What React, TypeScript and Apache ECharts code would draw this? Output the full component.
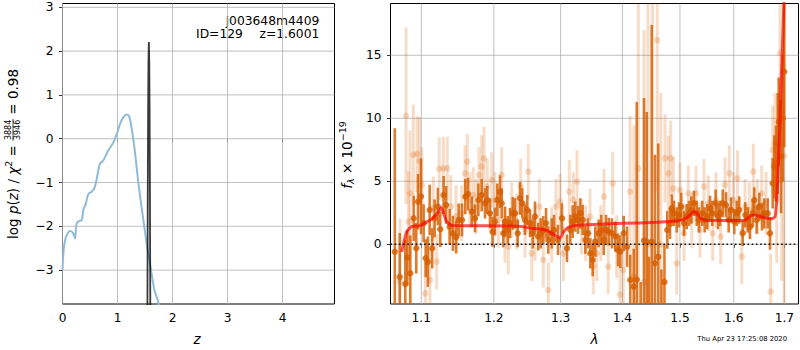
import React, { useEffect, useRef } from 'react';
import * as echarts from 'echarts';

const FONT = '"DejaVu Sans", "Liberation Sans", sans-serif';

// ---------- left panel: log p(z) ----------
const pzZ = [0.0, 0.02, 0.05, 0.09, 0.14, 0.19, 0.23, 0.245, 0.26, 0.30, 0.35, 0.38, 0.42, 0.47, 0.52, 0.57, 0.60, 0.64, 0.68, 0.74, 0.79, 0.83, 0.88, 0.93, 0.99, 1.05, 1.11, 1.17, 1.21, 1.26, 1.32, 1.38, 1.47, 1.53, 1.61, 1.67, 1.75, 1.84];
const pzLogp = [-3.0, -2.55, -2.3, -2.17, -2.11, -2.15, -2.28, -2.05, -1.93, -1.88, -1.86, -1.62, -1.50, -1.26, -1.22, -1.15, -1.05, -0.80, -0.57, -0.50, -0.38, -0.27, -0.18, -0.07, 0.12, 0.35, 0.50, 0.555, 0.52, 0.22, -0.33, -1.02, -1.86, -2.39, -3.0, -3.45, -3.77, -4.4];
const spikeZ = [1.535, 1.544, 1.550, 1.557, 1.563, 1.570, 1.577, 1.583, 1.590, 1.596, 1.605];
const spikeLogp = [-8.6, -3.77, -1.33, 0.71, 1.78, 2.21, 1.78, 0.71, -1.33, -3.77, -8.6];
const leftXTicks = [0, 1, 2, 3, 4];
const leftYTicks = [-3, -2, -1, 0, 1, 2, 3];
const titleName = 'j003648m4409';
const titleId = 'ID=129';
const titleZ = 'z=1.6001';

// ---------- right panel: spectrum ----------
const rightXTicks = [1.1, 1.2, 1.3, 1.4, 1.5, 1.6, 1.7];
const rightYTicks = [0, 5, 10, 15];

const darkWave = [
  1.0656, 1.0719, 1.0791, 1.0817, 1.0856, 1.0900, 1.0934, 1.0957, 1.0996, 1.1031, 1.1058, 1.1088, 1.1111, 1.1145, 1.1177, 1.1221, 1.1253, 1.1298, 1.1333, 1.1380, 1.1425, 1.1470, 1.1504, 1.1550, 1.1596, 1.1634,
  1.1686, 1.1732, 1.1779, 1.1826, 1.1873, 1.1906, 1.1945, 1.1980, 1.2016, 1.2050, 1.2089, 1.2113, 1.2137, 1.2161, 1.2201, 1.2235, 1.2275, 1.2308, 1.2348, 1.2382, 1.2416, 1.2457, 1.2491, 1.2532, 1.2573, 1.2607, 1.2657, 1.2694, 1.2733, 1.2775, 1.2810, 1.2862, 1.2898,
  1.2960, 1.3022, 1.3100, 1.3152, 1.3190, 1.3231, 1.3274, 1.3311, 1.3349, 1.3391, 1.3434, 1.3471, 1.3510, 1.3552, 1.3607, 1.3650, 1.3690, 1.3728, 1.3773, 1.3826, 1.3881, 1.3926, 1.3965, 1.4022, 1.4078,
  1.4133, 1.4192, 1.4243, 1.4311, 1.4368, 1.4414, 1.4454, 1.4501, 1.4558, 1.4615, 1.4671, 1.4724,
  1.4774, 1.4823, 1.4853, 1.4894, 1.4942, 1.4983, 1.5024, 1.5074, 1.5122, 1.5164, 1.5206, 1.5255, 1.5305, 1.5347, 1.5408, 1.5452, 1.5500, 1.5551, 1.5594, 1.5657, 1.5701,
  1.5738, 1.5790, 1.5852, 1.5903, 1.5947, 1.6010, 1.6056, 1.6106, 1.6172, 1.6223, 1.6270, 1.6315, 1.6368, 1.6399, 1.6446, 1.6498, 1.6551, 1.6597, 1.6665, 1.6711,
  1.6765, 1.6797, 1.6832, 1.6866, 1.6886, 1.6933, 1.6967, 1.6999,
];
const darkFlux = [
  -0.6, -2.6, -3.15, -1.06, -2.3, 2.06, -0.32, 3.38, 3.8, 1.67, -1.11, -1.38, 2.72, -0.32, 2.06, 2.99, 1.19, 3.91, 3.12, 1.4, 0.87, 0.56, 1.93, 1.93, 3.78, 3.99,
  2.59, 2.06, 3.52, 3.91, 3.25, 3.52, 2.46, 1.0, 1.8, 3.52, 4.18, 3.25, 0.87, 1.8, 1.14, 1.67, 2.46, 2.46, 0.87, 3.65, 3.25, 1.93, 2.72, 1.67, 0.87, 2.2, 0.61, 0.87, 1.14, 1.67, 0.34, 0.87, 1.14,
  0.34, 2.06, -0.32, 1.14, 1.8, 2.2, 1.93, 2.46, 1.93, 0.34, 0.87, -0.72, -1.24, 0.21, 0.87, 1.14, 0.34, 1.14, 1.0, 0.87, 0.61, -0.45, -0.58, 0.87, -0.19,
  -2.83, -3.36, -2.8, -7.0, 0.3, 0.2, -6.0, 0.2, -1.5, -1.0, -8.0, -3.0,
  1.14, 1.61, 2.86, 2.46, 1.93, 2.33, 2.99, 1.67, 2.2, 2.46, 2.72, 3.25, 2.46, 1.93, 2.46, 1.93, 2.2, 2.86, 2.46, 3.25, 2.2,
  2.46, 3.25, 3.12, 1.93, 2.72, 1.8, 2.46, 2.72, 0.87, 2.33, 1.93, 1.4, 2.46, 3.52, 1.93, 2.99, 2.2, 2.46, 2.46, 0.87,
  4.84, 6.16, 6.42, 8.0, 9.73, 6.96, 10.0, 13.7,
];
const darkErr = [
  9.8, 3.5, 3.5, 2.2, 3.0, 1.8, 2.0, 2.2, 3.0, 1.5, 1.5, 2.0, 2.0, 1.6, 1.5, 1.5, 1.4, 1.5, 1.5, 1.4, 1.4, 1.3, 1.3, 1.3, 1.4, 1.3,
  1.2, 1.1, 1.3, 1.3, 1.2, 1.1, 1.2, 1.2, 1.1, 1.3, 1.3, 1.2, 1.1, 1.2, 1.1, 1.2, 1.3, 1.2, 1.1, 1.3, 1.2, 1.2, 1.2, 1.1, 1.2, 1.2, 1.1, 1.2, 1.1, 1.2, 1.1, 1.2, 1.2,
  1.2, 1.2, 1.1, 1.2, 1.3, 1.2, 1.1, 1.2, 1.2, 1.1, 1.2, 1.2, 1.3, 1.2, 1.1, 1.2, 1.2, 1.2, 1.1, 1.2, 1.2, 1.3, 1.3, 1.4, 1.6,
  2.0, 3.0, 14.1, 4.0, 11.3, 10.3, 5.0, 17.2, 8.6, 9.0, 6.0, 3.0,
  1.5, 1.2, 1.1, 1.0, 1.0, 1.0, 1.1, 1.0, 1.0, 1.0, 1.1, 1.0, 1.0, 1.0, 1.0, 1.0, 1.0, 1.0, 1.0, 1.1, 1.0,
  1.0, 1.1, 1.0, 1.0, 1.0, 1.0, 1.0, 1.1, 1.0, 1.0, 1.0, 1.0, 1.1, 1.0, 1.1, 1.1, 1.1, 1.2, 1.2, 1.3,
  2.0, 2.5, 3.0, 4.0, 3.5, 4.5, 5.0, 6.0,
];

const lightWave = [
  1.0723, 1.0800, 1.0832, 1.0852, 1.0895, 1.0944, 1.0975, 1.1008, 1.1053, 1.1115,
  1.1159, 1.1204, 1.1239, 1.1294, 1.1348, 1.1395, 1.1468, 1.1546, 1.1592, 1.1624,
  1.1662, 1.1708, 1.1746, 1.1788, 1.1826, 1.1859, 1.1906, 1.1969, 1.2016, 1.2064,
  1.2113, 1.2161, 1.2210, 1.2260, 1.2333, 1.2393, 1.2457, 1.2506, 1.2558, 1.2607,
  1.2673, 1.2733, 1.2810, 1.2862, 1.2929, 1.2991, 1.3043, 1.3136, 1.3199, 1.3258,
  1.3329, 1.3396, 1.3466, 1.3519, 1.3575, 1.3640, 1.3695, 1.3764, 1.3838, 1.3904,
  1.3960, 1.4015, 1.4128, 1.4196, 1.4270, 1.4368, 1.4436, 1.4514, 1.4597, 1.4660,
  1.4734, 1.4793, 1.4835, 1.4882, 1.4942, 1.5001, 1.5074, 1.5152, 1.5214, 1.5292,
  1.5365, 1.5439, 1.5520, 1.5602, 1.5663, 1.5751, 1.5833, 1.5915, 1.5992, 1.6070,
  1.6154, 1.6218, 1.6302, 1.6380, 1.6459, 1.6545, 1.6631, 1.6725, 1.6765, 1.6812,
  1.6846, 1.6913, 1.6947, 1.6994,
];
const lightFlux = [
  -2.96, 10.2, 1.8, 4.05, 7.09, 7.17, 6.61, 4.71, -3.89, -2.83,
  2.86, -1.38, 5.98, 6.03, 6.03, 2.99, 2.2, 2.46, 5.63, 6.56,
  3.52, 3.91, 2.99, 5.5, 6.16, 6.82, 4.58, 5.1, 3.52, 1.93,
  5.5, 0.74, -0.19, 2.72, 1.8, 4.58, 1.14, 5.77, -0.72, 0.87,
  2.99, -1.24, -3.63, 0.74, 2.99, 3.38, -0.72, 4.18, 3.52, 4.97,
  1.4, 0.87, 2.2, -1.77, -0.72, 0.87, 3.78, -1.77, 4.84, -0.19,
  -4.0, -2.04, 4.18, -2.57, 6.03, -3.0, 0.0, 0.0, 16.2, 0.0,
  6.82, 5.63, 6.82, 4.44, -1.51, 4.31, 0.87, 4.05, 1.93, 4.05,
  1.14, 4.58, 3.25, 0.87, 3.52, 0.61, 4.71, 5.63, 3.52, 5.24,
  -0.98, 2.99, 2.72, 5.77, 2.99, 4.05, 3.25, -3.76, 7.49, 8.0,
  3.52, 15.2, 5.1, 7.0,
];
const lightErr = [
  5, 7, 4, 5, 4, 3, 3.5, 3, 2.5, 2.5,
  2.5, 2.2, 2.5, 2.5, 2.5, 2.5, 2.5, 2.2, 2.2, 2.2,
  2.2, 2.2, 2.2, 2.2, 2.5, 2.5, 2.2, 2.2, 2.2, 2.2,
  2.2, 2.2, 2.2, 2.2, 2.2, 2.2, 2.2, 2.2, 2.2, 2.2,
  2.2, 2.2, 2.2, 2.2, 2.2, 2.2, 2.2, 2.5, 2.2, 2.5,
  2.2, 2.2, 2.2, 2.2, 2.2, 2.2, 2.2, 2.2, 2.5, 2.5,
  2.5, 3, 6, 12, 14, 20, 20, 20, 12, 12,
  3.5, 3, 3, 2.5, 2.5, 2.2, 2.2, 2.2, 2.2, 2.2,
  2.2, 2.2, 2.2, 2.2, 2.2, 2.2, 2.2, 2.2, 2.2, 2.2,
  2.2, 2.2, 2.2, 2.2, 2.2, 2.2, 2.5, 3, 3.5, 4,
  5, 5, 8, 12,
];

const modelWave = [1.0744, 1.0808, 1.0872, 1.0983, 1.1049, 1.1139, 1.1205, 1.1270, 1.1294, 1.1340, 1.1408, 1.1569, 1.2235, 1.2432, 1.2582, 1.2683, 1.2785, 1.2887, 1.2991, 1.3043, 1.3121, 1.3253, 1.3575, 1.4017, 1.4587, 1.4929, 1.5049, 1.5182, 1.5255, 1.5305, 1.5397, 1.5521, 1.6185, 1.6348, 1.6413, 1.6578, 1.6745, 1.6812, 1.6846, 1.6879, 1.6913, 1.6947, 1.6994, 1.7025];
const modelFlux = [-0.6, 1.0, 1.4, 1.48, 1.7, 2.0, 2.4, 2.9, 2.5, 1.8, 1.5, 1.47, 1.45, 1.4, 1.25, 1.22, 1.1, 0.8, 0.5, 0.95, 1.35, 1.5, 1.58, 1.66, 1.74, 1.85, 1.93, 2.3, 2.6, 2.45, 2.0, 1.88, 1.88, 2.3, 2.33, 2.14, 2.02, 2.2, 3.5, 6.2, 10.1, 14.1, 19.5, 24];

const dateText = 'Thu Apr 23 17:25:08 2020';

// axis extents
const LN_MIN = 0.05838;
const LN_MAX = 0.54764;

type Piece = { text?: string; size: number; italic?: boolean; dy?: number; num?: string; den?: string };

function makeText(text: string, x: number, y: number, size: number, italic: boolean, align: string) {
  return {
    type: 'text',
    x,
    y,
    silent: true,
    style: {
      text,
      fontSize: size,
      fontFamily: FONT,
      fontStyle: italic ? 'italic' : 'normal',
      fill: '#000',
      textAlign: align,
      align,
      textVerticalAlign: 'middle',
      verticalAlign: 'middle',
    },
  };
}

function rotatedLabel(pieces: Piece[], cx: number, cy: number) {
  const canvas = document.createElement('canvas');
  const ctx = canvas.getContext('2d') as CanvasRenderingContext2D;
  const measure = (t: string, size: number, italic?: boolean) => {
    ctx.font = `${italic ? 'italic ' : ''}${size}px "DejaVu Sans"`;
    return ctx.measureText(t).width;
  };
  let x = 0;
  const children: any[] = [];
  for (const p of pieces) {
    if (p.num !== undefined && p.den !== undefined) {
      const w = Math.max(measure(p.num, p.size), measure(p.den, p.size)) + 1.5;
      children.push(makeText(p.num, x + w / 2, -4.6, p.size, false, 'center'));
      children.push(makeText(p.den, x + w / 2, 4.8, p.size, false, 'center'));
      children.push({ type: 'line', silent: true, shape: { x1: x, y1: 0, x2: x + w, y2: 0 }, style: { stroke: '#000', lineWidth: 0.7 } });
      x += w;
    } else {
      const t = p.text as string;
      children.push(makeText(t, x, p.dy || 0, p.size, !!p.italic, 'left'));
      x += measure(t, p.size, p.italic);
    }
  }
  return { type: 'group', x: cx, y: cy + x / 2, rotation: Math.PI / 2, children };
}

function errRender(color: string, lw: number, r: number) {
  return (params: any, api: any) => {
    const x = api.value(0);
    const y = api.value(1);
    const e = api.value(2);
    const c = api.coord([x, y]);
    const top = api.coord([x, y + e]);
    const bot = api.coord([x, y - e]);
    return {
      type: 'group',
      children: [
        { type: 'line', shape: { x1: c[0], y1: top[1], x2: c[0], y2: bot[1] }, style: { stroke: color, lineWidth: lw } },
        { type: 'circle', shape: { cx: c[0], cy: c[1], r }, style: { fill: color } },
      ],
    };
  };
}

// grid lines drawn through the axis scales: dim 2 = 0 for vertical line at x, 1 for horizontal line at y
function gridRender(params: any, api: any) {
  const cs = params.coordSys;
  const vertical = api.value(2) === 0;
  const p = api.coord([api.value(0), api.value(1)]);
  const shape = vertical
    ? { x1: p[0], y1: cs.y, x2: p[0], y2: cs.y + cs.height }
    : { x1: cs.x, y1: p[1], x2: cs.x + cs.width, y2: p[1] };
  return { type: 'line', shape, style: { stroke: '#b0b0b0', lineWidth: 0.8 } };
}

const tickStyle = { length: 3.5, lineStyle: { color: '#000', width: 0.8 } };
const labelBase = { color: '#000', fontSize: 12.2, fontFamily: FONT };
const minusFmt = (v: number) => (v < 0 ? '\u2212' + Math.abs(v) : String(v));

export default function App() {
  const ref = useRef<HTMLDivElement>(null);
  useEffect(() => {
    if (!ref.current) return;
    const chart = echarts.init(ref.current, null, { renderer: 'svg' });

    const leftLabel = rotatedLabel(
      [
        { text: 'log ', size: 13.5 },
        { text: 'p', size: 13.5, italic: true },
        { text: '(', size: 13.5 },
        { text: 'z', size: 13.5, italic: true },
        { text: ') / ', size: 13.5 },
        { text: '\u03c7', size: 13.5, italic: true },
        { text: '2', size: 9.5, dy: -5 },
        { text: ' = ', size: 13.5 },
        { num: '3884', den: '3946', size: 8 },
        { text: ' = 0.98', size: 13.5 },
      ],
      13,
      154
    );
    const rightLabel = rotatedLabel(
      [
        { text: 'f', size: 13.5, italic: true },
        { text: '\u03bb', size: 9.5, italic: true, dy: 3.5 },
        { text: ' \u00d7 10', size: 13.5 },
        { text: '\u221219', size: 9.5, dy: -5 },
      ],
      347,
      155
    );

    const leftGrid = [
      ...leftXTicks.map((v) => [v, 0, 0]),
      ...leftYTicks.map((v) => [0, v, 1]),
    ];
    const rightGrid = [
      ...rightXTicks.map((v) => [Math.log(v), 0, 0]),
      ...rightYTicks.map((v) => [LN_MIN, v, 1]),
    ];

    const option: any = {
      animation: false,
      textStyle: { fontFamily: FONT },
      grid: [
        { left: 62.5, top: 3.5, width: 272, height: 300.5, show: true, borderColor: '#000', borderWidth: 1, backgroundColor: 'transparent' },
        { left: 390.5, top: 3.5, width: 408, height: 300.5, show: true, borderColor: '#000', borderWidth: 1, backgroundColor: 'transparent' },
      ],
      xAxis: [
        {
          gridIndex: 0, type: 'value', min: 0, max: 4.945,
          axisLine: { show: false }, splitLine: { show: false },
          axisTick: { ...tickStyle, customValues: leftXTicks },
          axisLabel: { ...labelBase, margin: 8, customValues: leftXTicks, formatter: (v: number) => String(v) },
        },
        {
          gridIndex: 1, type: 'value', min: LN_MIN, max: LN_MAX,
          axisLine: { show: false }, splitLine: { show: false },
          axisTick: { ...tickStyle, customValues: rightXTicks.map((v) => Math.log(v)) },
          axisLabel: { ...labelBase, margin: 8, customValues: rightXTicks.map((v) => Math.log(v)), formatter: (v: number) => Math.exp(v).toFixed(1) },
        },
      ],
      yAxis: [
        {
          gridIndex: 0, type: 'value', min: -3.774, max: 3.087,
          axisLine: { show: false }, splitLine: { show: false },
          axisTick: { ...tickStyle, customValues: leftYTicks },
          axisLabel: { ...labelBase, margin: 9, customValues: leftYTicks, formatter: minusFmt },
        },
        {
          gridIndex: 1, type: 'value', min: -4.74, max: 19.11,
          axisLine: { show: false }, splitLine: { show: false },
          axisTick: { ...tickStyle, customValues: rightYTicks },
          axisLabel: { ...labelBase, margin: 9, customValues: rightYTicks, formatter: (v: number) => String(v) },
        },
      ],
      series: [
        {
          name: 'grid-left', type: 'custom', xAxisIndex: 0, yAxisIndex: 0, z: 1, silent: true,
          data: leftGrid, encode: { x: 0, y: 1 }, renderItem: gridRender,
        },
        {
          name: 'pz', type: 'line', xAxisIndex: 0, yAxisIndex: 0, z: 3,
          data: pzZ.map((z, i) => [z, pzLogp[i]]),
          showSymbol: false, smooth: 0.2, clip: true,
          lineStyle: { color: '#8fbbd9', width: 2 },
        },
        {
          name: 'spike', type: 'line', xAxisIndex: 0, yAxisIndex: 0, z: 4,
          data: spikeZ.map((z, i) => [z, spikeLogp[i]]),
          showSymbol: false, clip: true,
          lineStyle: { color: 'rgba(0,0,0,0.78)', width: 1.8 },
        },
        {
          name: 'grid-right', type: 'custom', xAxisIndex: 1, yAxisIndex: 1, z: 1, silent: true,
          data: rightGrid, encode: { x: 0, y: 1 }, renderItem: gridRender,
        },
        {
          name: 'light', type: 'custom', xAxisIndex: 1, yAxisIndex: 1, z: 3, clip: true,
          data: lightWave.map((w, i) => [Math.log(w), lightFlux[i], lightErr[i]]),
          encode: { x: 0, y: 1 },
          renderItem: errRender('rgba(217,95,2,0.22)', 3, 3.3),
        },
        {
          name: 'dark', type: 'custom', xAxisIndex: 1, yAxisIndex: 1, z: 4, clip: true,
          data: darkWave.map((w, i) => [Math.log(w), darkFlux[i], darkErr[i]]),
          encode: { x: 0, y: 1 },
          renderItem: errRender('rgba(214,94,0,0.82)', 2.6, 3.2),
        },
        {
          name: 'model', type: 'line', xAxisIndex: 1, yAxisIndex: 1, z: 5,
          data: modelWave.map((w, i) => [Math.log(w), modelFlux[i]]),
          showSymbol: false, smooth: 0.15, clip: true,
          lineStyle: { color: 'rgba(255,0,0,0.68)', width: 3 },
        },
        {
          name: 'zero', type: 'line', xAxisIndex: 1, yAxisIndex: 1, z: 6,
          data: [[LN_MIN, 0], [LN_MAX, 0]],
          showSymbol: false,
          lineStyle: { color: '#111', width: 1.6, type: [1.6, 2.6] },
        },
      ],
      graphic: [
        makeText(titleName, 319.3, 20.7, 12.3, false, 'right'),
        makeText(titleId, 196, 34.3, 12.3, false, 'left'),
        makeText(titleZ, 319.3, 34.3, 12.3, false, 'right'),
        makeText('z', 197, 339, 13.5, true, 'center'),
        makeText('\u03bb', 594.5, 339, 13.5, true, 'center'),
        makeText(dateText, 787, 339, 6.8, false, 'right'),
        leftLabel,
        rightLabel,
      ],
    };
    chart.setOption(option);
    return () => chart.dispose();
  }, []);
  return <div ref={ref} style={{ position: 'absolute', left: 0, top: 0, width: 800, height: 350 }} />;
}
